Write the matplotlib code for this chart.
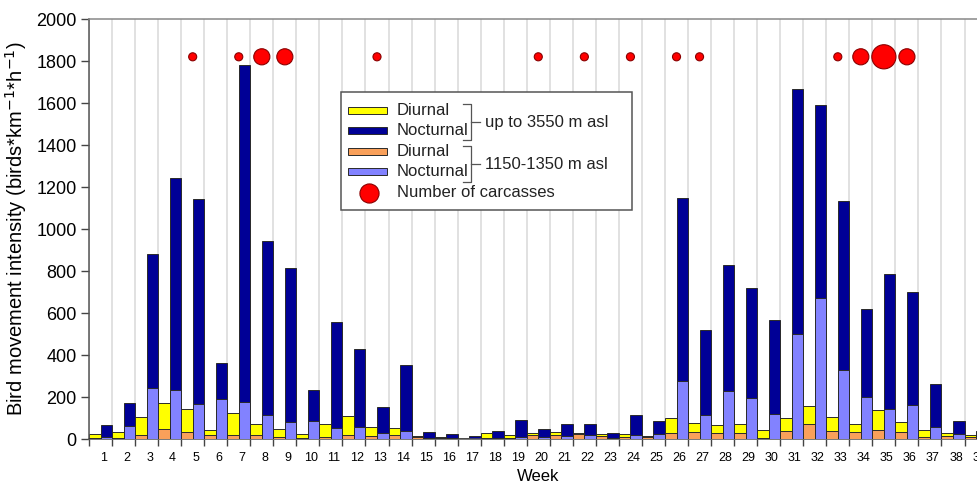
import matplotlib
matplotlib.use("Agg")
import matplotlib.pyplot as plt
import matplotlib.transforms as mtransforms
import numpy as np

plt.rcParams["font.family"] = ["Liberation Sans", "DejaVu Sans"]

# Weekly bird movement intensity (birds*km^-1*h^-1)
weeks = list(range(1, 40))
diurnal_high = [22, 35, 103, 170, 143, 43, 123, 72, 46, 24,
                70, 110, 56, 52, 16, 10, 5, 27, 21, 28,
                32, 27, 22, 22, 14, 99, 75, 67, 70, 41,
                102, 158, 105, 72, 138, 81, 41, 29, 19]
nocturnal_high = [67, 173, 883, 1241, 1141, 361, 1782, 942, 815, 234,
                  555, 428, 154, 353, 35, 25, 14, 38, 89, 49,
                  72, 73, 30, 113, 86, 1148, 520, 830, 719, 568,
                  1666, 1589, 1133, 620, 788, 700, 263, 84, 40]
diurnal_low = [5, 3, 19, 46, 32, 19, 19, 19, 10, 5,
               8, 19, 15, 19, 8, 5, 2, 5, 5, 20,
               19, 22, 12, 10, 8, 27, 35, 27, 27, 5,
               38, 70, 40, 33, 41, 32, 10, 12, 10]
nocturnal_low = [10, 62, 245, 232, 166, 189, 177, 115, 83, 87,
                 51, 56, 27, 37, 5, 3, 2, 5, 8, 10,
                 15, 19, 5, 21, 22, 274, 115, 229, 194, 118,
                 500, 671, 329, 199, 142, 162, 59, 24, 10]

carcass_weeks = [5, 7, 8, 9, 13, 20, 22, 24, 26, 27, 33, 34, 35, 36]
carcass_counts = [1, 1, 2, 2, 1, 1, 1, 1, 1, 1, 1, 2, 3, 2]
carcass_level = 1820

yellow = "#FFFF00"
navy = "#000096"
orange = "#F9A05A"
lightblue = "#8282FF"
edge = "#2a2a2a"

W, H = 977, 486
fig = plt.figure(figsize=(W / 100, H / 100), dpi=100)
ax = fig.add_axes([89 / W, 47 / H, 23.04 * 39 / W, 420 / H])

x = np.array(weeks, dtype=float)
half = 0.5
ax.bar(x - half / 2, diurnal_high, width=half, color=yellow, edgecolor=edge, linewidth=0.7, zorder=2)
ax.bar(x - half / 2, diurnal_low, width=half, color=orange, edgecolor=edge, linewidth=0.7, zorder=3)
ax.bar(x + half / 2, nocturnal_high, width=half, color=navy, edgecolor=edge, linewidth=0.7, zorder=2)
ax.bar(x + half / 2, nocturnal_low, width=half, color=lightblue, edgecolor=edge, linewidth=0.7, zorder=3)

# carcasses as bubbles, diameter grows with count
sizes = [(5.8 * c) ** 2 for c in carcass_counts]
ax.scatter(carcass_weeks, [carcass_level] * len(carcass_weeks), s=sizes,
           color="#FF0000", edgecolor="#8a0000", linewidth=0.8, zorder=4)

ax.set_xlim(0.5, 39.5)
ax.set_ylim(0, 2000)
ax.set_yticks(range(0, 2001, 200))
ax.tick_params(axis="y", labelsize=13, length=6, width=1, color="#444444", pad=3)

ax.set_xticks(weeks)
ax.set_xticklabels([str(w) for w in weeks], fontsize=9)
ax.set_xticks(np.arange(0.5, 40, 1), minor=True)
ax.tick_params(axis="x", which="major", length=0, pad=9)
ax.tick_params(axis="x", which="minor", length=5, width=1, color="#444444")
shift = mtransforms.ScaledTranslation(3 / 100, 0, fig.dpi_scale_trans)
for lab in ax.get_xticklabels():
    lab.set_transform(lab.get_transform() + shift)

ax.grid(axis="x", which="minor", color="#d9d9d9", linewidth=1.1, zorder=0)
ax.set_axisbelow(True)
for side in ["left", "bottom", "top"]:
    ax.spines[side].set_color("#555555")
    ax.spines[side].set_linewidth(1.1)
ax.spines["top"].set_color("#888888")
ax.spines["right"].set_visible(False)

ax.set_xlabel("Week", fontsize=12, labelpad=4)
ax.set_ylabel("Bird movement intensity (birds*km$^{-1}$*h$^{-1}$)", fontsize=14.5, labelpad=5)

# legend drawn in pixel coordinates on an overlay
ov = fig.add_axes([0, 0, 1, 1], facecolor="none")
ov.set_xlim(0, W)
ov.set_ylim(H, 0)
ov.axis("off")
ov.add_patch(plt.Rectangle((341, 92), 291, 118, facecolor="white", edgecolor="#555555", linewidth=1.1))
rows = [(110, yellow, "Diurnal"), (130, navy, "Nocturnal"),
        (151.5, orange, "Diurnal"), (171, lightblue, "Nocturnal")]
for yy, col, lab in rows:
    ov.add_patch(plt.Rectangle((348, yy - 3.5), 39, 7, facecolor=col, edgecolor=edge, linewidth=0.7))
    ov.text(397, yy, lab, fontsize=12, va="center", ha="left", color="#222222")
ov.scatter([369], [192.5], s=190, color="#FF0000", edgecolor="#8a0000", linewidth=0.8)
ov.text(397, 192.5, "Number of carcasses", fontsize=12, va="center", ha="left", color="#222222")

for top, bot, mid, lab in [(104, 140, 122, "up to 3550 m asl"), (146.5, 182, 164, "1150-1350 m asl")]:
    ov.plot([463, 471, 471, 463], [top, top, bot, bot], color="#555555", linewidth=0.9)
    ov.plot([471, 480], [mid, mid], color="#555555", linewidth=0.9)
    ov.text(485, mid, lab, fontsize=12, va="center", ha="left", color="#222222")

fig.savefig("out.png", dpi=100)
